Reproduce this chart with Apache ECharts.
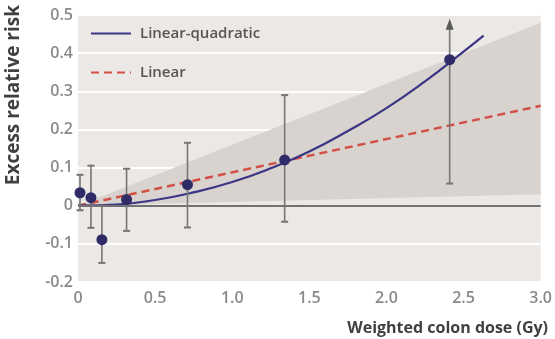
<!DOCTYPE html>
<html>
<head>
<meta charset="utf-8">
<script src="https://cdn.jsdelivr.net/npm/echarts@6/dist/echarts.min.js"></script>
<style>
html,body{margin:0;padding:0;background:#fff;}
#chart{width:555px;height:339px;}
</style>
</head>
<body>
<div id="chart"></div>
<script>
// Observed points (dose, ERR, lower CI, upper CI)
const doseX   = [0.013, 0.084, 0.155, 0.315, 0.71, 1.34, 2.41];
const errY    = [0.034, 0.021, -0.089, 0.016, 0.055, 0.12, 0.383];
const ciLow   = [-0.012, -0.058, -0.15, -0.066, -0.057, -0.042, 0.058];
const ciHigh  = [0.081, 0.105, 0.0, 0.097, 0.165, 0.29, 0.49];
const ciArrow = [0, 0, 0, 0, 0, 0, 1];

// Linear-quadratic fit
const lqX = [0, 0.25, 0.5, 0.75, 1.0, 1.25, 1.5, 1.75, 2.0, 2.25, 2.5, 2.63];
const lqY = [0, 0.003, 0.015, 0.035, 0.062, 0.098, 0.142, 0.196, 0.256, 0.326, 0.404, 0.446];

// Linear fit
const linX = [0, 3.0];
const linY = [0, 0.262];

// Confidence band
const bandX    = [0, 3.0];
const bandLow  = [0, 0.03];
const bandHigh = [0, 0.48];

const xTicks = [0, 0.5, 1.0, 1.5, 2.0, 2.5, 3.0];
const yTicks = [-0.2, -0.1, 0, 0.1, 0.2, 0.3, 0.4, 0.5];

const FONT = '"Open Sans", "DejaVu Sans", sans-serif';
const fmt = v => (Math.abs(v) < 1e-9 ? '0' : v.toFixed(1));

const chart = echarts.init(document.getElementById('chart'), null, {renderer: 'canvas'});

const option = {
  animation: false,
  backgroundColor: '#ffffff',
  grid: {
    left: 78, right: 11, top: 15, bottom: 57,
    show: true, backgroundColor: '#ebe8e5', borderWidth: 0
  },
  legend: {
    data: ['Linear-quadratic', 'Linear'],
    orient: 'vertical',
    left: 85, top: 21,
    itemWidth: 40, itemHeight: 14, itemGap: 24,
    itemStyle: {color: 'rgba(0,0,0,0)', borderWidth: 0, opacity: 0},
    textStyle: {fontFamily: FONT, fontSize: 15, fontWeight: 600, color: '#555', padding: [0, 0, 0, 4]}
  },
  xAxis: {
    type: 'value', min: 0, max: 3.0, interval: 0.5,
    axisLine: {show: false}, axisTick: {show: false}, splitLine: {show: false},
    axisLabel: {
      showMinLabel: true, showMaxLabel: true, margin: 8,
      fontFamily: FONT, fontSize: 16, fontWeight: 600, color: '#8a8a8a',
      formatter: v => fmt(v)
    }
  },
  yAxis: {
    type: 'value', min: -0.2, max: 0.5, interval: 0.1,
    axisLine: {show: false}, axisTick: {show: false},
    splitLine: {show: true, lineStyle: {color: '#ffffff', width: 2}},
    axisLabel: {
      showMinLabel: true, showMaxLabel: true, margin: 5,
      fontFamily: FONT, fontSize: 16, fontWeight: 600, color: '#8a8a8a',
      formatter: v => fmt(v)
    }
  },
  graphic: [
    {
      type: 'text', left: 4, top: 5, rotation: Math.PI / 2,
      style: {text: 'Excess relative risk', font: 'bold 19px ' + FONT, fill: '#404040'}
    },
    {
      type: 'text', right: 7, bottom: 3,
      style: {text: 'Weighted colon dose (Gy)', font: 'bold 16px ' + FONT, fill: '#404040'}
    }
  ],
  series: [
    {
      name: 'band', type: 'custom', z: 1, silent: true,
      data: bandX.map((x, i) => [x, bandLow[i], bandHigh[i]]),
      renderItem: function (params, api) {
        if (params.dataIndex !== 0) return null;
        const pts = [];
        for (let i = 0; i < bandX.length; i++) pts.push(api.coord([bandX[i], bandHigh[i]]));
        for (let i = bandX.length - 1; i >= 0; i--) pts.push(api.coord([bandX[i], bandLow[i]]));
        return {type: 'polygon', shape: {points: pts}, style: {fill: '#d8d3cf'}};
      },
      markLine: {
        silent: true, symbol: 'none', label: {show: false},
        lineStyle: {color: '#727272', width: 2.2, type: 'solid'},
        data: [{yAxis: 0}]
      }
    },
    {
      name: 'Linear', type: 'line', z: 3, symbol: 'none', showSymbol: false,
      data: linX.map((x, i) => [x, linY[i]]),
      lineStyle: {color: '#d24f45', width: 2.5, type: [8, 5]},
      itemStyle: {color: '#d24f45'}
    },
    {
      name: 'Linear-quadratic', type: 'line', z: 4, symbol: 'none', showSymbol: false, smooth: true,
      data: lqX.map((x, i) => [x, lqY[i]]),
      lineStyle: {color: '#3b3585', width: 2.2},
      itemStyle: {color: '#3b3585'}
    },
    {
      name: 'ci', type: 'custom', z: 5, silent: true,
      data: doseX.map((x, i) => [x, ciLow[i], ciHigh[i], ciArrow[i]]),
      renderItem: function (params, api) {
        const x = api.value(0), lo = api.value(1), hi = api.value(2), arrow = api.value(3);
        const pLo = api.coord([x, lo]);
        const pHi = api.coord([x, hi]);
        const c = '#767676';
        const children = [];
        const topY = arrow ? pHi[1] + 10 : pHi[1];
        children.push({type: 'line', shape: {x1: pLo[0], y1: pLo[1], x2: pLo[0], y2: topY}, style: {stroke: c, lineWidth: 1.6}});
        children.push({type: 'line', shape: {x1: pLo[0] - 3.5, y1: pLo[1], x2: pLo[0] + 3.5, y2: pLo[1]}, style: {stroke: c, lineWidth: 2}});
        if (arrow) {
          children.push({type: 'polygon', shape: {points: [[pHi[0], pHi[1]], [pHi[0] - 4, pHi[1] + 11], [pHi[0] + 4, pHi[1] + 11]]}, style: {fill: '#5a5a5a'}});
        } else {
          children.push({type: 'line', shape: {x1: pHi[0] - 3.5, y1: pHi[1], x2: pHi[0] + 3.5, y2: pHi[1]}, style: {stroke: c, lineWidth: 2}});
        }
        return {type: 'group', children: children};
      }
    },
    {
      name: 'points', type: 'scatter', z: 6, symbol: 'circle', symbolSize: 11,
      data: doseX.map((x, i) => [x, errY[i]]),
      itemStyle: {color: '#2e2b66', opacity: 1}
    }
  ]
};

chart.setOption(option);
</script>
</body>
</html>
